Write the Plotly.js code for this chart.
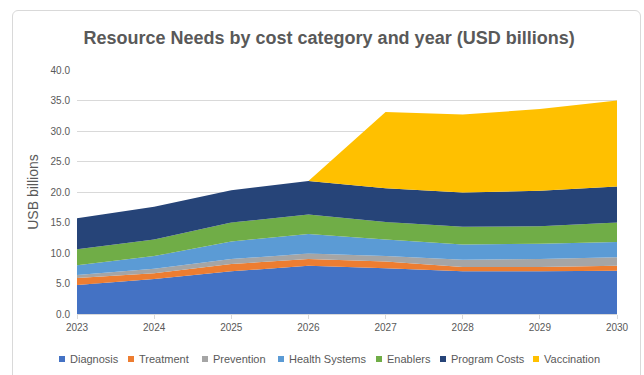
<!DOCTYPE html>
<html>
<head>
<meta charset="utf-8">
<script src="https://cdn.plot.ly/plotly-3.0.1.min.js"></script>
<style>
  html, body { margin: 0; padding: 0; background: #ffffff; }
  #frame {
    position: absolute; left: 12px; top: 10px; width: 627px; height: 400px;
    border: 1px solid #d9d9d9; border-radius: 6px; background: #ffffff;
  }
  #chart { position: absolute; left: 0; top: 0; width: 644px; height: 375px; }
</style>
</head>
<body>
<div id="frame"></div>
<div id="chart"></div>
<script>
// Years on the category axis
const years = ['2023', '2024', '2025', '2026', '2027', '2028', '2029', '2030'];

// Resource needs per cost category (USD billions)
const diagnosis     = [4.75, 5.75, 7.0, 7.9, 7.5, 7.0, 7.0, 7.1];
const treatment     = [1.15, 0.95, 1.2, 1.1, 1.1, 0.7, 0.7, 0.8];
const prevention    = [0.5, 0.7, 0.8, 0.9, 0.9, 1.2, 1.3, 1.4];
const healthSystems = [1.6, 2.1, 2.9, 3.2, 2.7, 2.5, 2.5, 2.5];
const enablers      = [2.6, 2.7, 3.1, 3.2, 2.9, 2.9, 2.9, 3.2];
const programCosts  = [5.1, 5.4, 5.3, 5.5, 5.5, 5.6, 5.8, 5.9];
const vaccination   = [0, 0, 0, 0, 12.5, 12.8, 13.4, 14.1];

// Y axis ticks
const yTicks = [0, 5, 10, 15, 20, 25, 30, 35, 40];

const seriesNames  = ['Diagnosis', 'Treatment', 'Prevention', 'Health Systems', 'Enablers', 'Program Costs', 'Vaccination'];
const seriesValues = [diagnosis, treatment, prevention, healthSystems, enablers, programCosts, vaccination];
const seriesColors = ['#4472C4', '#ED7D31', '#A5A5A5', '#5B9BD5', '#70AD47', '#264478', '#FFC000'];

const FONT = "'Liberation Sans', Arial, sans-serif";
const GREY = '#595959';

const traces = seriesNames.map((name, i) => ({
  type: 'scatter',
  mode: 'lines',
  name: name,
  x: years,
  y: seriesValues[i],
  stackgroup: 'one',
  line: { width: 0, color: seriesColors[i] },
  fillcolor: seriesColors[i],
  hoverinfo: 'skip'
}));

// Plot area geometry (pixels), used to place the custom legend
const W = 644, H = 375;
const M = { l: 77, r: 27, t: 70, b: 61 };
const plotW = W - M.l - M.r, plotH = H - M.t - M.b;
const toPaperX = px => (px - M.l) / plotW;
const toPaperY = py => (H - M.b - py) / plotH;

// Custom legend: small squares followed by the series names
const legendTextX = [68, 137, 211, 287, 385, 449, 542];
const legendY = 359;
const shapes = [];
const annotations = [];
seriesNames.forEach((name, i) => {
  shapes.push({
    type: 'rect', xref: 'paper', yref: 'paper',
    x0: toPaperX(legendTextX[i] - 9), x1: toPaperX(legendTextX[i] - 3),
    y0: toPaperY(legendY + 3), y1: toPaperY(legendY - 3),
    fillcolor: seriesColors[i], line: { width: 0 }
  });
  annotations.push({
    xref: 'paper', yref: 'paper',
    x: toPaperX(legendTextX[i]), y: toPaperY(legendY),
    xanchor: 'left', yanchor: 'middle', showarrow: false,
    text: name, font: { family: FONT, size: 11, color: GREY }
  });
});

const layout = {
  width: W, height: H,
  margin: M,
  paper_bgcolor: 'rgba(0,0,0,0)',
  plot_bgcolor: 'rgba(0,0,0,0)',
  showlegend: false,
  title: {
    text: '<b>Resource Needs by cost category and year (USD billions)</b>',
    font: { family: FONT, size: 18, color: GREY },
    x: 0.511, xanchor: 'center', y: 0.9, yanchor: 'middle'
  },
  xaxis: {
    type: 'category',
    range: [0, years.length - 1],
    showgrid: false,
    showline: true, linecolor: '#d9d9d9', linewidth: 1,
    ticks: 'outside', ticklen: 4, tickcolor: '#d9d9d9',
    tickfont: { family: FONT, size: 10, color: GREY },
    fixedrange: true
  },
  yaxis: {
    range: [0, 40],
    tickvals: yTicks,
    tickformat: '.1f',
    showgrid: true, gridcolor: '#d9d9d9', gridwidth: 1,
    zeroline: false, showline: false,
    ticks: '', ticklabelstandoff: 6,
    tickfont: { family: FONT, size: 10, color: GREY },
    title: { text: 'USB billions', font: { family: FONT, size: 14, color: GREY }, standoff: 8 },
    fixedrange: true
  },
  shapes: shapes,
  annotations: annotations
};

Plotly.newPlot('chart', traces, layout, { displayModeBar: false, staticPlot: true });
</script>
</body>
</html>
